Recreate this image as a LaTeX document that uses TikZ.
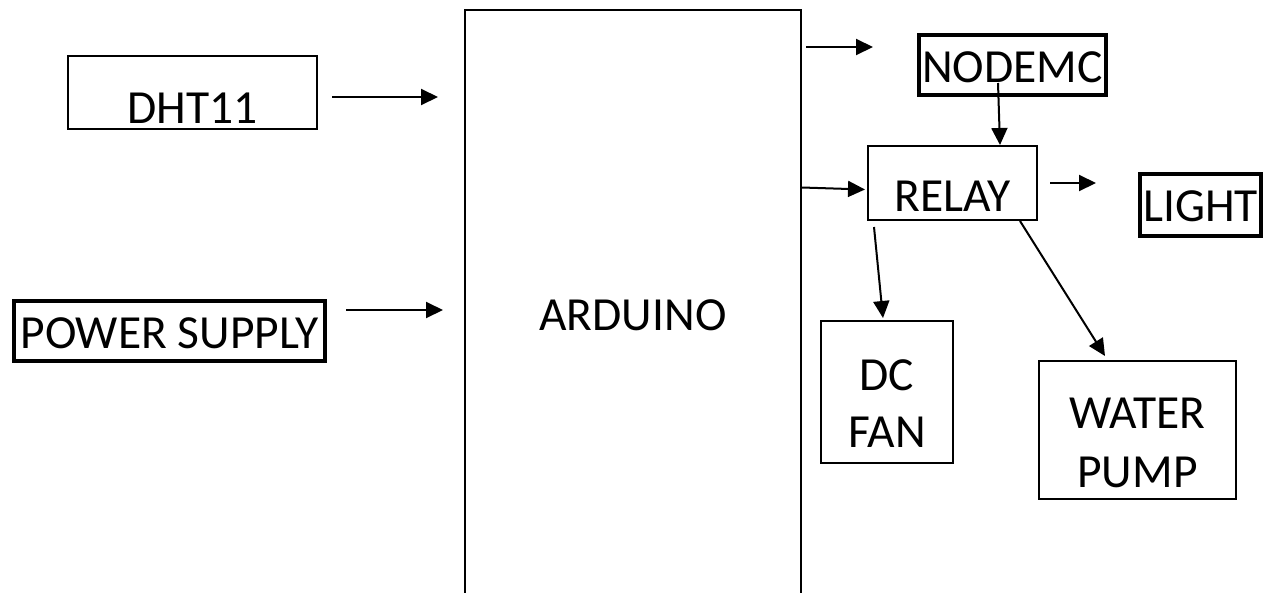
\documentclass[tikz,border=0pt]{standalone}
\usepackage{fontspec}
\setmainfont{Carlito}
\usetikzlibrary{arrows.meta,positioning}

\begin{document}
\begin{tikzpicture}[
    x=1pt, y=-1pt,
    blk/.style={draw, line width=2pt, inner sep=0pt, text depth=0pt,
        font=\fontsize{47.5}{57}\selectfont},
    thickblk/.style={blk, line width=4pt},
    arr/.style={-{Triangle[length=17pt,width=16pt]}, line width=2pt},
]
\useasboundingbox (0,0) rectangle (1272,592);
\clip (0,0) rectangle (1272,592);

% Inputs
\node[blk, minimum width=249pt, minimum height=73pt, text height=61pt] (dht) at (192.5,92.5) {DHT11};
\node[thickblk, minimum width=311pt, minimum height=60pt, text height=35pt] (ps) at (169.5,331) {POWER SUPPLY};

% Controller
\node[blk, minimum width=336pt, minimum height=610pt, text height=30pt] (ard) at (633,315) {ARDUINO};

% Outputs
\node[thickblk, minimum width=187pt, minimum height=60pt, text height=35pt] (nmcu) at (1012.5,65) {NODEMC};
\node[blk, minimum width=169pt, minimum height=74pt, text height=56pt] (relay) at (952.5,183) {RELAY};
\node[thickblk, minimum width=121pt, minimum height=62pt, text height=32pt] (light) at (1200.5,205) {LIGHT};
\node[blk, align=center, minimum width=132pt, minimum height=142pt, text height=110pt] (fan) at (887,392) {DC\\FAN};
\node[blk, align=center, minimum width=197pt, minimum height=138pt, text height=114pt] (pump) at (1137.5,430) {WATER\\[2pt]PUMP};

% Connections
\draw[arr, shorten <=14pt, shorten >=26pt] ([yshift=-4.5pt]dht.east) -- ([yshift=-4.5pt]dht.east -| ard.west);
\draw[arr, shorten <=19pt, shorten >=21pt] ([yshift=21pt]ps.east) -- ([yshift=21pt]ps.east -| ard.west);
\draw[arr, shorten <=4pt, shorten >=44pt] ([yshift=18pt]nmcu.west -| ard.east) -- ([yshift=18pt]nmcu.west);
\draw[arr] ([yshift=-4.5pt]relay.west -| ard.east) -- ([xshift=-2pt,yshift=-6.5pt]relay.west);
\draw[arr] ([xshift=-14.5pt,yshift=-18pt]nmcu.center) -- ([xshift=47.5pt]relay.north);
\draw[arr, shorten <=12pt, shorten >=42pt] (relay.east) -- (relay.east -| light.west);
\draw[arr] ([xshift=-78.5pt,yshift=-6pt]relay.south) -- ([xshift=-4pt,yshift=2pt]fan.north);
\draw[arr] ([xshift=-18pt]relay.south east) -- ([xshift=-32.5pt,yshift=4pt]pump.north);
\end{tikzpicture}
\end{document}
